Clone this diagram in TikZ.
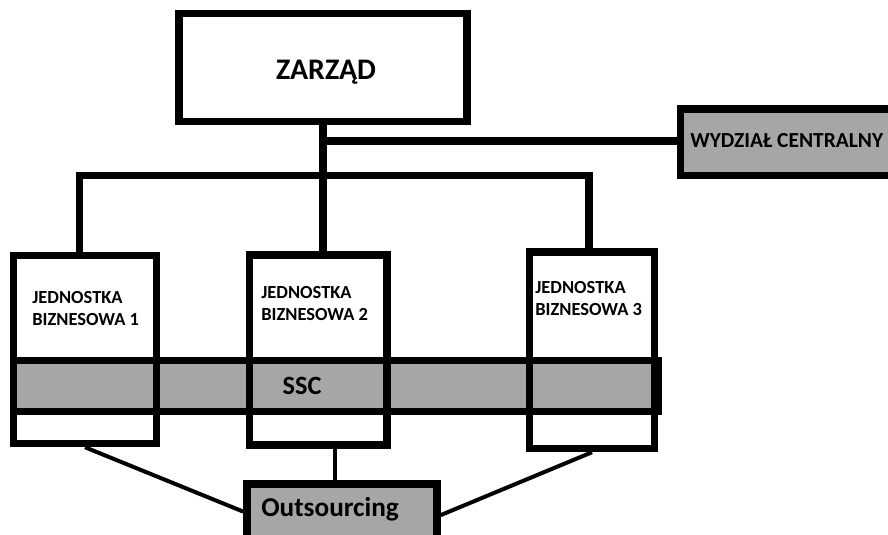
\documentclass[tikz,border=0pt]{standalone}
\usepackage{fontspec}
\setmainfont{Carlito}
\usepackage{xcolor}
\usetikzlibrary{positioning}
\definecolor{ssgray}{RGB}{166,166,166}

\begin{document}
\begin{tikzpicture}[x=0.02cm, y=-0.02cm,
  box/.style={rectangle, draw, line width=0.15cm, inner sep=0pt},
  graybox/.style={box, fill=ssgray},
  lbl/.style={inner sep=0pt, font=\bfseries},
  conn/.style={line width=0.15cm},
  thin conn/.style={line width=0.08cm}]
\clip (0,0) rectangle (888,534);

% gorna czesc
\node[box, minimum width=5.76cm, minimum height=2.16cm] (zarzad) at (323,67.5) {};
\node[lbl, font=\bfseries\fontsize{17}{20}\selectfont] (zarzadtxt) at (326,72) {ZARZĄD};
\node[graybox, minimum width=4.4cm, minimum height=1.33cm] (wydzial) at (790.5,142.25) {};
\node[lbl, anchor=base west, font=\bfseries\fontsize{12.2}{14}\selectfont] (wydzialtxt) at (690,147.5) {WYDZIAŁ CENTRALNY};

% SSC i jednostki
\node[graybox, minimum width=12.9cm, minimum height=1.02cm] (ssc) at (336,386) {};
\node[lbl, font=\bfseries\fontsize{15}{18}\selectfont] (ssctxt) at (302,386) {SSC};
\node[box, minimum width=2.86cm, minimum height=3.76cm] (bu1) at (85,349.5) {};
\node[box, minimum width=2.75cm, minimum height=3.8cm] (bu2) at (318.25,350) {};
\node[box, minimum width=2.5cm, minimum height=3.93cm] (bu3) at (592,350.25) {};
\node[lbl, anchor=north west, align=left, font=\bfseries\fontsize{10.5}{12.5}\selectfont] (bu1txt) at (32,291) {JEDNOSTKA\\BIZNESOWA 1};
\node[lbl, anchor=north west, align=left, font=\bfseries\fontsize{10.5}{12.5}\selectfont] (bu2txt) at (261,286) {JEDNOSTKA\\BIZNESOWA 2};
\node[lbl, anchor=north west, align=left, font=\bfseries\fontsize{10.5}{12.5}\selectfont] (bu3txt) at (535,281) {JEDNOSTKA\\BIZNESOWA 3};

% outsourcing
\node[graybox, minimum width=3.8cm, minimum height=1.52cm] (out) at (342,522) {};
\node[lbl, anchor=base, font=\bfseries\fontsize{15.5}{18}\selectfont] (outtxt) at (330,516) {Outsourcing};

% polaczenia
\coordinate (j1) at (79.5,175.5);
\coordinate (j3) at (589,175.5);
\coordinate (mid) at (335,445);
\draw[conn] (zarzad.south) -- (zarzad.south |- bu2.north);
\draw[conn] (zarzad.south |- 0,141) -- (wydzial.west |- 0,141);
\draw[conn] (j1 |- bu1.north) -- (j1) -- (j3) -- (j3 |- bu3.north);
\draw[thin conn] (mid) -- (mid |- out.north);
\draw[thin conn] (bu1.south) -- (out.174);
\draw[thin conn] (bu3.south) -- (out.4);
\end{tikzpicture}
\end{document}
